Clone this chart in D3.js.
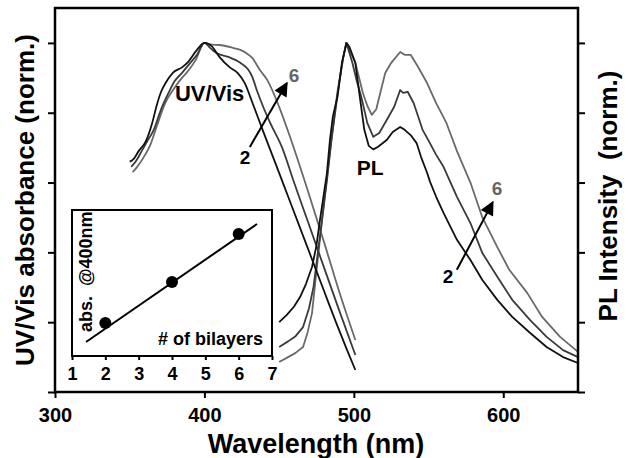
<!DOCTYPE html>
<html><head><meta charset="utf-8">
<script src="https://cdn.jsdelivr.net/npm/d3@7/dist/d3.min.js"></script>
<style>
body{margin:0;background:#fff}
svg{display:block}
text{font-family:"Liberation Sans",Arial,Helvetica,sans-serif;font-weight:bold}
</style>
</head><body>
<svg id="chart" width="629" height="458"></svg>
<script>
// ---------- data ----------
const xTicks = [300, 400, 500, 600];
const yTicks = [0, 0.2, 0.4, 0.6, 0.8, 1.0];
const seriesNames = ["2", "4", "6"];           // number of bilayers

// UV/Vis absorbance (normalized), [wavelength nm, value]
const uv2 = [[350,0.66],[352,0.665],[356,0.69],[361,0.72],[365,0.77],[368,0.82],[371,0.86],[374,0.885],[379,0.915],[385,0.93],[389,0.945],[395,0.98],[400,1.0],[405,0.99],[410,0.96],[417,0.93],[422,0.915],[427,0.885],[432,0.83],[439,0.75],[448,0.65],[456,0.56],[464,0.47],[472,0.38],[480,0.29],[488,0.2],[495,0.125],[501,0.063]];
const uv4 = [[351,0.645],[354,0.66],[358,0.69],[362,0.72],[366,0.75],[371,0.81],[376,0.857],[380,0.89],[385,0.914],[390,0.94],[395,0.966],[400,1.0],[404,0.985],[408,0.971],[416,0.96],[424,0.943],[429,0.925],[432,0.903],[435,0.865],[440,0.81],[444,0.771],[452,0.70],[460,0.60],[470,0.479],[480,0.357],[490,0.236],[501,0.106]];
const uv6 = [[352,0.63],[355,0.645],[359,0.67],[364,0.71],[368,0.76],[374,0.83],[379,0.865],[384,0.895],[388,0.914],[394,0.95],[400,1.0],[405,0.995],[410,0.994],[419,0.986],[424,0.98],[428,0.971],[432,0.957],[437,0.923],[442,0.894],[450,0.817],[458,0.722],[470,0.566],[480,0.43],[490,0.29],[501,0.149]];

// PL intensity (normalized), [wavelength nm, value]
const pl2 = [[450,0.2],[455,0.22],[460,0.245],[464,0.272],[468,0.31],[472,0.358],[475,0.42],[477,0.484],[480,0.57],[482,0.628],[484,0.722],[486,0.79],[489,0.845],[492,0.943],[495,1.0],[497,0.989],[501,0.943],[504,0.845],[507,0.751],[510,0.705],[513,0.695],[516,0.702],[522,0.722],[526,0.745],[531,0.759],[534,0.751],[538,0.736],[542,0.713],[545,0.673],[549,0.628],[551,0.602],[555,0.56],[560,0.513],[569,0.436],[578,0.378],[586,0.321],[596,0.264],[606,0.215],[618,0.169],[629,0.129],[640,0.10],[650,0.083]];
const pl4 = [[450,0.129],[456,0.145],[461,0.16],[466,0.186],[470,0.24],[473,0.301],[477,0.436],[482,0.607],[485,0.722],[489,0.85],[492.5,0.95],[495,1.0],[499,0.943],[502,0.89],[505,0.845],[509,0.771],[513,0.731],[517,0.742],[522,0.779],[527,0.817],[531,0.865],[533,0.857],[536,0.86],[540,0.828],[546,0.751],[550,0.72],[555,0.68],[560,0.645],[569,0.559],[578,0.484],[586,0.398],[596,0.33],[606,0.264],[618,0.206],[629,0.158],[640,0.12],[650,0.10]];
const pl6 = [[450,0.086],[456,0.1],[461,0.112],[466,0.129],[469,0.17],[472,0.226],[476,0.387],[481,0.579],[485,0.722],[489,0.86],[493,0.96],[495,1.0],[501,0.943],[506,0.857],[509,0.82],[512,0.794],[515,0.81],[517,0.845],[521,0.914],[525,0.943],[531,0.974],[534,0.966],[538,0.966],[543,0.931],[549,0.885],[555,0.828],[562,0.77],[569,0.69],[578,0.60],[586,0.50],[596,0.415],[604,0.35],[616,0.284],[626,0.215],[638,0.158],[650,0.115]];

// annotations in data units
const uvArrow = [[430.4,0.702],[455.2,0.885]];
const plArrow = [[568.9,0.35],[593,0.544]];
const annoLabels = [
  {t:"UV/Vis", x:380.3, y:0.834, size:22, c:"#000"},
  {t:"PL",     x:502,   y:0.622, size:21, c:"#000"},
  {t:"2",      x:423.7, y:0.653, size:19, c:"#000"},
  {t:"6",      x:456.5, y:0.888, size:19, c:"#666"},
  {t:"2",      x:559.5, y:0.312, size:19, c:"#000"},
  {t:"6",      x:592.3, y:0.564, size:19, c:"#666"}
];

// inset: absorbance at 400 nm vs number of bilayers
const insetTicks = [1,2,3,4,5,6,7];
const bilayers = [2, 4, 6];
const abs400 = [0.226, 0.507, 0.836];
const fitLine = [[1.42,0.096],[6.55,0.904]];

// ---------- drawing ----------
const svg = d3.select("#chart");
const colors = ["#111", "#3a3a3a", "#6a6a6a"];

const x = d3.scaleLinear().domain([300, 650]).range([55, 578]);
const y = d3.scaleLinear().domain([0, 1.1]).range([392, 8]);

const line = d3.line().x(d => x(d[0])).y(d => y(d[1])).curve(d3.curveMonotoneX);

const uvSeries = [uv2, uv4, uv6];
const plSeries = [pl2, pl4, pl6];

// draw lightest first so darkest is on top
[2,1,0].forEach(i => {
  svg.append("path").datum(uvSeries[i]).attr("d", line)
    .attr("fill","none").attr("stroke",colors[i]).attr("stroke-width",1.8);
  svg.append("path").datum(plSeries[i]).attr("d", d3.line().x(d=>x(d[0])).y(d=>y(d[1])).curve(d3.curveLinear))
    .attr("fill","none").attr("stroke",colors[i]).attr("stroke-width",1.8).attr("stroke-linejoin","round");
});

// axes
const gx = svg.append("g").attr("transform","translate(0,392)")
  .call(d3.axisBottom(x).tickValues(xTicks).tickSize(6).tickPadding(10).tickFormat(d3.format("d")));
const gl = svg.append("g").attr("transform","translate(55,0)")
  .call(d3.axisLeft(y).tickValues(yTicks).tickSize(7).tickFormat(""));
const gr = svg.append("g").attr("transform","translate(578,0)")
  .call(d3.axisRight(y).tickValues(yTicks).tickSize(7).tickFormat(""));
[gx,gl,gr].forEach(g => {
  g.select(".domain").remove();
  g.selectAll(".tick line").attr("stroke","#000").attr("stroke-width",2);
});
gx.selectAll(".tick text").attr("font-size",20).attr("fill","#000")
  .style("font-family",'"Liberation Sans",Arial,sans-serif').style("font-weight","bold");

// frame
svg.append("rect").attr("x",x(300)).attr("y",y(1.1))
  .attr("width",x(650)-x(300)).attr("height",y(0)-y(1.1))
  .attr("fill","none").attr("stroke","#000").attr("stroke-width",2.5);

// titles
svg.append("text").attr("x",316).attr("y",453).attr("text-anchor","middle")
  .attr("font-size",27).text("Wavelength (nm)");
svg.append("text").attr("transform","translate(34,200) rotate(-90)").attr("text-anchor","middle")
  .attr("font-size",26).text("UV/Vis absorbance (norm.)");
svg.append("text").attr("transform","translate(617,196) rotate(-90)").attr("text-anchor","middle")
  .attr("font-size",26).attr("xml:space","preserve").style("white-space","pre").text("PL Intensity  (norm.)");

// annotation labels
annoLabels.forEach(a => {
  svg.append("text").attr("x",x(a.x)).attr("y",y(a.y)).attr("font-size",a.size)
    .attr("fill",a.c).text(a.t);
});

// arrows
svg.append("defs").append("marker").attr("id","ah")
  .attr("viewBox","0 0 10 10").attr("refX",9).attr("refY",5)
  .attr("markerWidth",8).attr("markerHeight",7).attr("markerUnits","strokeWidth")
  .attr("orient","auto")
  .append("path").attr("d","M0,0 L10,5 L0,10 Z").attr("fill","#000");
[uvArrow, plArrow].forEach(a => {
  svg.append("line").attr("x1",x(a[0][0])).attr("y1",y(a[0][1]))
    .attr("x2",x(a[1][0])).attr("y2",y(a[1][1]))
    .attr("stroke","#000").attr("stroke-width",2).attr("marker-end","url(#ah)");
});

// inset
const ix = d3.scaleLinear().domain([1,7]).range([72,272]);
const iy = d3.scaleLinear().domain([0,1]).range([356,210]);
svg.append("rect").attr("x",ix(1)).attr("y",iy(1)).attr("width",ix(7)-ix(1)).attr("height",iy(0)-iy(1))
  .attr("fill","#fff").attr("stroke","#000").attr("stroke-width",2);
const gi = svg.append("g").attr("transform",`translate(0,${iy(0)})`)
  .call(d3.axisBottom(ix).tickValues(insetTicks).tickSize(4).tickPadding(7).tickFormat(d3.format("d")));
gi.select(".domain").remove();
gi.selectAll(".tick line").attr("stroke","#000").attr("stroke-width",2);
gi.selectAll(".tick text").attr("font-size",18).attr("fill","#000")
  .style("font-family",'"Liberation Sans",Arial,sans-serif').style("font-weight","bold");

svg.append("path").datum(fitLine)
  .attr("d", d3.line().x(d=>ix(d[0])).y(d=>iy(d[1])))
  .attr("stroke","#000").attr("stroke-width",2).attr("fill","none");
svg.selectAll("circle.pt").data(bilayers).enter().append("circle")
  .attr("cx",d=>ix(d)).attr("cy",(d,i)=>iy(abs400[i])).attr("r",6).attr("fill","#000");

svg.append("text").attr("x",263).attr("y",345).attr("text-anchor","end")
  .attr("font-size",18).text("# of bilayers");
svg.append("text").attr("transform","translate(92,332) rotate(-90)").attr("text-anchor","start")
  .attr("font-size",18).style("white-space","pre").text("abs.  @400nm");
</script>
</body></html>
